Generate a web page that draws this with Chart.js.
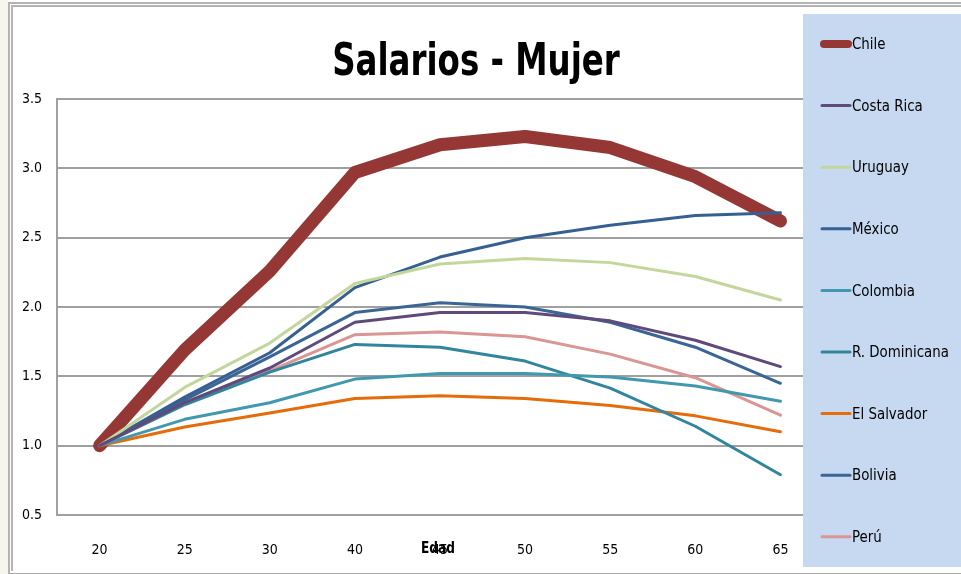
<!DOCTYPE html>
<html>
<head>
<meta charset="utf-8">
<script src="https://cdn.jsdelivr.net/npm/chart.js@4/dist/chart.umd.min.js"></script>
<style>
  html, body { margin: 0; padding: 0; background: #fff; }
  #wrap { position: relative; width: 961px; height: 574px; overflow: hidden; }
  #side { position: absolute; left: 0; top: 0; width: 8px; height: 574px; background: #f6f6ec; }
  #frame1 { position: absolute; left: 8px; top: 2px; width: 960px; height: 569px; border-left: 2px solid #b4b4b4; border-top: 2px solid #b4b4b4; border-bottom: 2px solid #a8a8a8; }
  #frame2 { position: absolute; left: 11px; top: 5px; width: 960px; height: 10px; border-left: 2px solid #b4b4b4; border-top: 2px solid #b4b4b4; }
  #frame3 { position: absolute; left: 11px; top: 5px; width: 2px; height: 566px; background: #b4b4b4; }
  canvas { position: absolute; left: 0; top: 0; }
</style>
</head>
<body>
<div id="wrap">
  <div id="side"></div>
  <div id="frame1"></div>
  <div id="frame2"></div>
  <div id="frame3"></div>
  <canvas id="chart" width="961" height="574"></canvas>
</div>
<script>
const edades = ['20', '25', '30', '40', '45', '50', '55', '60', '65'];

const chile        = [1.00, 1.69, 2.26, 2.97, 3.17, 3.23, 3.15, 2.94, 2.62];
const costaRica    = [1.00, 1.31, 1.56, 1.89, 1.96, 1.96, 1.90, 1.76, 1.57];
const uruguay      = [1.00, 1.42, 1.74, 2.17, 2.31, 2.35, 2.32, 2.22, 2.05];
const mexico       = [1.00, 1.35, 1.67, 2.14, 2.36, 2.50, 2.59, 2.66, 2.68];
const colombia     = [1.00, 1.19, 1.31, 1.48, 1.52, 1.52, 1.495, 1.43, 1.32];
const rDominicana  = [1.00, 1.295, 1.53, 1.73, 1.71, 1.61, 1.415, 1.14, 0.79];
const elSalvador   = [1.00, 1.135, 1.235, 1.34, 1.36, 1.34, 1.29, 1.215, 1.10];
const bolivia      = [1.00, 1.33, 1.64, 1.96, 2.03, 2.00, 1.89, 1.71, 1.45];
const peru         = [1.00, 1.30, 1.54, 1.80, 1.82, 1.785, 1.66, 1.49, 1.22];

const yTicks = [0.5, 1.0, 1.5, 2.0, 2.5, 3.0, 3.5];

const FONT = '"Liberation Sans Narrow", "DejaVu Sans Condensed", "Liberation Sans", sans-serif';

function serie(label, data, color, width) {
  return {
    label, data,
    borderColor: color,
    backgroundColor: color,
    borderWidth: width,
    pointRadius: 0,
    tension: 0,
    borderCapStyle: 'round',
    borderJoinStyle: 'round',
    order: width > 5 ? 10 : 0
  };
}

// squeezed text, to get close to the Calibri look of the original
function narrowText(ctx, text, x, y, sx) {
  ctx.save();
  ctx.translate(x, y);
  ctx.scale(sx, 1);
  ctx.fillText(text, 0, 0);
  ctx.restore();
}

// title, legend box and the overlapping "Edad" title, drawn like the Excel original
const extras = {
  id: 'extras',
  afterDraw(chart) {
    const ctx = chart.ctx;
    const area = chart.chartArea;
    ctx.save();
    ctx.fillStyle = '#000';
    ctx.textBaseline = 'middle';

    ctx.font = 'bold 44px ' + FONT;
    ctx.textAlign = 'center';
    narrowText(ctx, 'Salarios - Mujer', 476, 64, 0.82);

    ctx.font = 'bold 15px ' + FONT;
    narrowText(ctx, 'Edad', (area.left + area.right) / 2 - 2, 549, 0.9);

    ctx.fillStyle = '#c6d9f1';
    ctx.fillRect(803, 14, 158, 553);
    ctx.font = '16px ' + FONT;
    ctx.textAlign = 'left';
    chart.data.datasets.forEach((ds, i) => {
      const y = 44 + i * 61.6;
      const thick = ds.borderWidth > 5;
      ctx.strokeStyle = ds.borderColor;
      ctx.lineCap = 'round';
      ctx.lineWidth = thick ? 8 : 3;
      ctx.beginPath();
      ctx.moveTo(thick ? 824 : 822, y);
      ctx.lineTo(thick ? 848 : 850, y);
      ctx.stroke();
      ctx.fillStyle = '#000';
      narrowText(ctx, ds.label, 852, y + 1, 0.93);
    });
    ctx.restore();
  }
};

new Chart(document.getElementById('chart'), {
  type: 'line',
  data: {
    labels: edades,
    datasets: [
      serie('Chile', chile, '#953735', 13),
      serie('Costa Rica', costaRica, '#604a7b', 3),
      serie('Uruguay', uruguay, '#c3d69b', 3),
      serie('México', mexico, '#376092', 3),
      serie('Colombia', colombia, '#4198af', 3),
      serie('R. Dominicana', rDominicana, '#31859c', 3),
      serie('El Salvador', elSalvador, '#e46c0a', 3),
      serie('Bolivia', bolivia, '#3a6595', 3),
      serie('Perú', peru, '#d99694', 3)
    ]
  },
  options: {
    responsive: false,
    animation: false,
    events: [],
    layout: { padding: { left: 0, right: 138, top: 99, bottom: 0 } },
    plugins: {
      legend: { display: false },
      tooltip: { enabled: false },
      title: { display: false }
    },
    scales: {
      x: {
        offset: true,
        grid: { display: false, drawTicks: false },
        border: { display: true, color: '#a0a0a0', width: 2 },
        ticks: { color: '#000', font: { family: FONT, size: 14 }, padding: 27, maxRotation: 0, autoSkip: false },
        afterFit(s) { s.height = 59; }
      },
      y: {
        min: 0.5,
        max: 3.5,
        afterBuildTicks(s) { s.ticks = yTicks.map(v => ({ value: v })); },
        grid: { color: '#a0a0a0', lineWidth: 2, drawTicks: false },
        border: { display: true, color: '#a0a0a0', width: 2 },
        ticks: { color: '#000', font: { family: FONT, size: 14 }, padding: 15, callback: v => v.toFixed(1) },
        afterFit(s) { s.width = 57; }
      }
    }
  },
  plugins: [extras]
});
</script>
</body>
</html>
